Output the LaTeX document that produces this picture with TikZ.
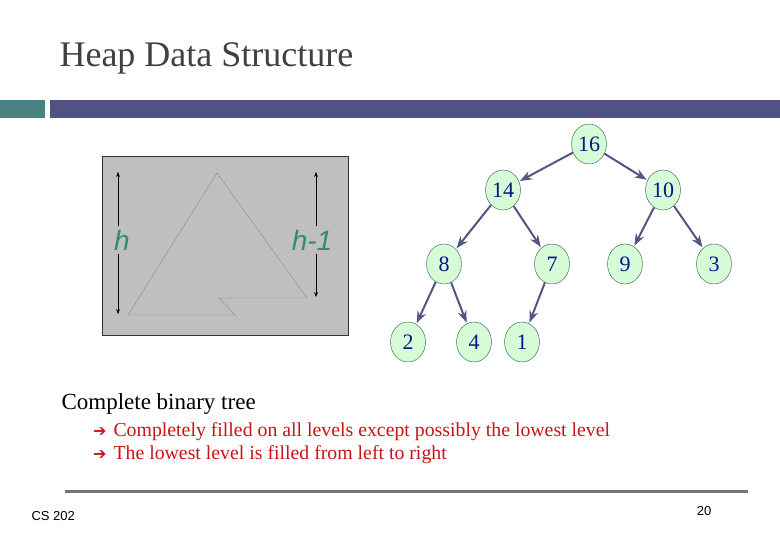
\documentclass[tikz,border=0pt]{standalone}
\usepackage{fontspec}
\setmainfont{Liberation Serif}
\setsansfont{Liberation Sans}
\newfontfamily\symfont{DejaVu Sans}
\usetikzlibrary{arrows.meta, shapes.geometric}
\definecolor{barblue}{RGB}{80,82,132}
\definecolor{barteal}{RGB}{72,130,130}
\definecolor{keyblue}{RGB}{10,20,140}
\definecolor{keyfill}{RGB}{215,250,215}
\definecolor{edgeblue}{RGB}{85,85,130}
\definecolor{hgreen}{RGB}{50,140,100}
\definecolor{txtred}{RGB}{200,20,20}
\tikzset{>=Stealth,
  key/.style={ellipse, draw=hgreen!70!black, fill=keyfill, text=keyblue, inner sep=1pt,
    minimum width=35pt, minimum height=40pt, font=\fontsize{22}{24}\selectfont},
  link/.style={->, draw=edgeblue, line width=2pt, shorten >=1pt}}
\begin{document}
\begin{tikzpicture}[x=1pt, y=-1pt]
    \useasboundingbox (0,0) rectangle (780,540);
    % title and header bars
    \node[anchor=west, font=\fontsize{36}{40}\selectfont, text=black!75] (T) at (56,58) {Heap Data Structure};
    \fill[barteal] (0,100) rectangle (45,118);
    \fill[barblue] (50,100) rectangle (780,118);
    % sketch of a complete tree
    \draw[black!80, fill=black!25] (102,156) rectangle (348,335);
    \draw[edgeblue!70, thin] (217,173) -- (128,315) -- (235,315) -- (219,298) -- (307,298) -- cycle;
    \node[text=hgreen, font=\sffamily\itshape\fontsize{28}{30}\selectfont] (H) at (122,240) {h};
    \node[text=hgreen, font=\sffamily\itshape\fontsize{28}{30}\selectfont] (H1) at (312,240) {h-1};
    \coordinate (Ht) at (118,172); \coordinate (Hb) at (118,314);
    \coordinate (Gt) at (316,172); \coordinate (Gb) at (316,297);
    \draw[->, thin] (H.north -| Ht) -- (Ht);
    \draw[->, thin] (H.south -| Ht) -- (Hb);
    \draw[->, thin] (H1.north -| Gt) -- (Gt);
    \draw[->, thin] (H1.south -| Gt) -- (Gb);
    % the heap
    \node[key] (n16) at (589,144) {16};
    \node[key] (n14) at (503,190) {14};
    \node[key] (n10) at (663,190) {10};
    \node[key] (n8)  at (444,264) {8};
    \node[key] (n7)  at (552,264) {7};
    \node[key] (n9)  at (625,264) {9};
    \node[key] (n3)  at (714,264) {3};
    \node[key] (n2)  at (408,342) {2};
    \node[key] (n4)  at (474,342) {4};
    \node[key] (n1)  at (522,342) {1};
    \foreach \a/\b in {16/14, 16/10, 14/8, 14/7, 10/9, 10/3, 8/2, 8/4, 7/1}
      \draw[link] (n\a) -- (n\b);
    % text
    \node[anchor=west, font=\fontsize{23}{26}\selectfont] (C) at (58,404) {Complete binary tree};
    \node[anchor=west, text=txtred, font=\fontsize{19.8}{23}\selectfont] (B1) at (110,432) {Completely filled on all levels except possibly the lowest level};
    \node[anchor=west, text=txtred, font=\fontsize{19.8}{23}\selectfont] (B2) at (110,455) {The lowest level is filled from left to right};
    \node[anchor=east, text=txtred, font=\symfont\fontsize{16}{18}\selectfont] at (B1.west) {➔};
    \node[anchor=east, text=txtred, font=\symfont\fontsize{16}{18}\selectfont] at (B2.west) {➔};
    % footer
    \draw[black!55, line width=3pt] (65,491) -- (748,491);
    \node[anchor=west, font=\sffamily\fontsize{13}{15}\selectfont] (F) at (28,516) {CS 202};
    \node[font=\sffamily\fontsize{13}{15}\selectfont] (P) at (704,511) {20};
\end{tikzpicture}
\end{document}
